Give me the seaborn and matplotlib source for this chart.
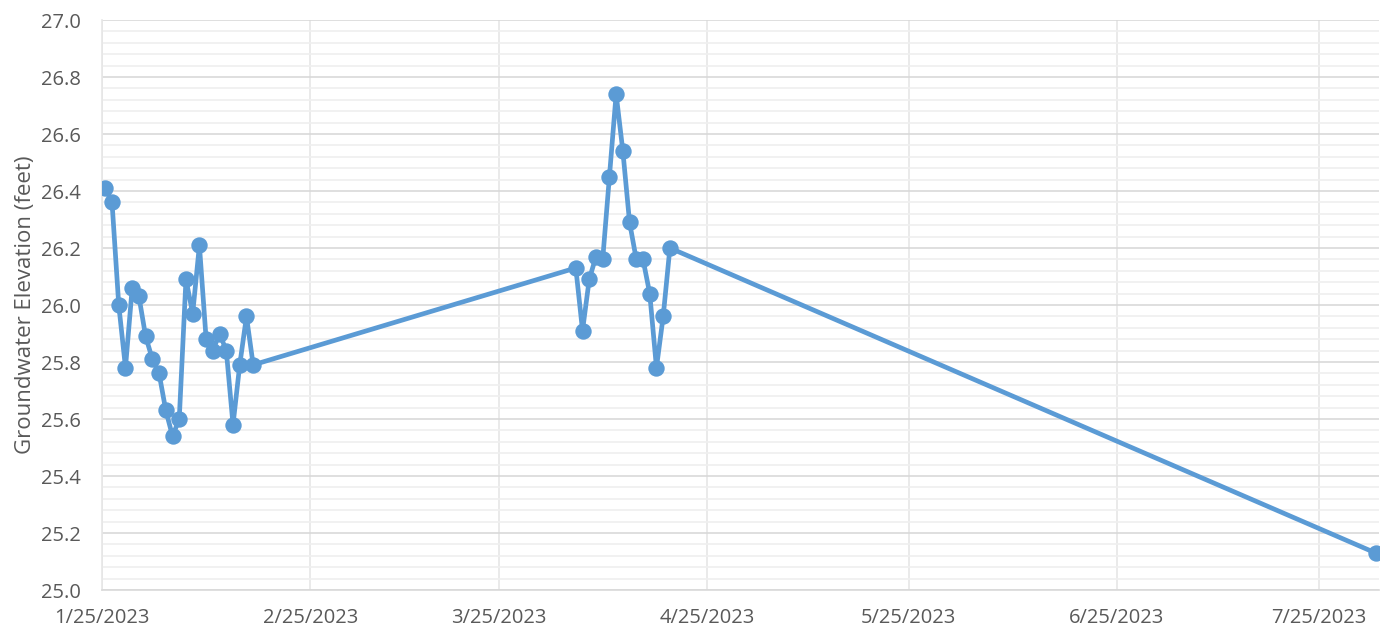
import matplotlib
matplotlib.use("Agg")
import matplotlib.pyplot as plt
from matplotlib.ticker import MultipleLocator, FuncFormatter
import matplotlib.dates as mdates
import pandas as pd
import seaborn as sns

# Daily readings, late January to mid February
dates_winter = pd.date_range("2023-01-25", "2023-02-16", freq="D")
elev_winter = [26.41, 26.36, 26.00, 25.78, 26.06, 26.03, 25.89, 25.81, 25.76,
               25.63, 25.54, 25.60, 26.09, 25.97, 26.21, 25.88, 25.84, 25.90,
               25.84, 25.58, 25.79, 25.96, 25.79]

# Daily readings in April
dates_spring = pd.date_range("2023-04-05", "2023-04-19", freq="D")
elev_spring = [26.13, 25.91, 26.09, 26.17, 26.16, 26.45, 26.74, 26.54, 26.29,
               26.16, 26.16, 26.04, 25.78, 25.96, 26.20]

# Single summer reading
dates_summer = pd.to_datetime(["2023-08-02"])
elev_summer = [25.13]

tick_dates = pd.to_datetime(["2023-01-25", "2023-02-25", "2023-03-25", "2023-04-25",
                             "2023-05-25", "2023-06-25", "2023-07-25"])
axis_start = pd.Timestamp("2023-01-25")
axis_end = pd.Timestamp("2023-08-03")
y_label = "Groundwater Elevation (feet)"

dates = list(dates_winter) + list(dates_spring) + list(dates_summer)
elev = elev_winter + elev_spring + elev_summer
# Each reading sits in the middle of its day on the date axis
df = pd.DataFrame({"date": pd.to_datetime(dates) + pd.Timedelta(hours=12),
                   "elevation": elev})

sns.set_theme(style="white")
plt.rcParams["font.family"] = ["Open Sans", "DejaVu Sans"]

line_color = "#5B9BD5"
text_color = "#595959"

fig = plt.figure(figsize=(13.89, 6.33), dpi=100)
ax = fig.add_axes([0.0734, 0.0679, 0.9194, 0.9005])

sns.lineplot(data=df, x="date", y="elevation", ax=ax, color=line_color,
             linewidth=3.4, marker="o", markersize=11.8, markeredgewidth=0,
             zorder=3)

ax.set_xlim(axis_start, axis_end)
ax.set_ylim(25.0, 27.0)

ax.yaxis.set_major_locator(MultipleLocator(0.2))
ax.yaxis.set_minor_locator(MultipleLocator(0.04))
ax.yaxis.set_major_formatter(FuncFormatter(lambda v, _: f"{v:.1f}"))

ax.set_xticks(tick_dates)
ax.xaxis.set_major_formatter(FuncFormatter(
    lambda v, _: (lambda d: f"{d.month}/{d.day}/{d.year}")(mdates.num2date(v))))

ax.grid(which="minor", axis="y", color="#EFEFEF", linewidth=1.2, zorder=0)
ax.grid(which="major", axis="y", color="#D9D9D9", linewidth=1.2, zorder=0)
ax.grid(which="major", axis="x", color="#E6E6E6", linewidth=1.2, zorder=0)
ax.set_axisbelow(True)

for side in ("top", "right"):
    ax.spines[side].set_visible(False)
ax.spines["bottom"].set_color("#D9D9D9")
ax.spines["bottom"].set_linewidth(1.2)
ax.spines["left"].set_color("#E6E6E6")
ax.spines["left"].set_linewidth(1.2)

ax.tick_params(axis="x", which="major", direction="out", length=7, width=1.2,
               color="#D9D9D9", labelsize=14.5, labelcolor=text_color, pad=6)
ax.tick_params(axis="y", which="both", length=0, labelsize=14.5,
               labelcolor=text_color, pad=15)

ax.set_xlabel("")
ax.set_ylabel(y_label, fontsize=16, color=text_color, labelpad=4)

fig.savefig("out.png", dpi=100)
